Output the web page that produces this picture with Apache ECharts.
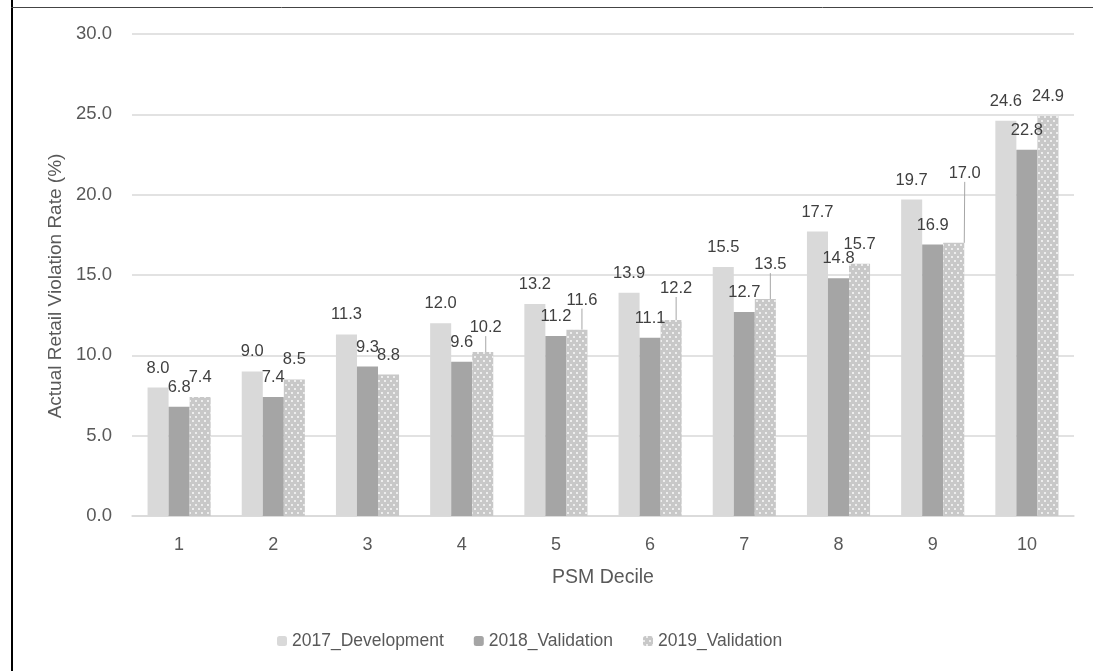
<!DOCTYPE html>
<html>
<head>
<meta charset="utf-8">
<script src="https://cdn.jsdelivr.net/npm/echarts@6/dist/echarts.min.js"></script>
<style>
html,body{margin:0;padding:0;background:#fff;}
#c{width:1093px;height:671px;}
</style>
</head>
<body>
<div id="c"></div>
<script>
const deciles = ['1','2','3','4','5','6','7','8','9','10'];
const dev2017 = [8.0, 9.0, 11.3, 12.0, 13.2, 13.9, 15.5, 17.7, 19.7, 24.6];
const val2018 = [6.8, 7.4, 9.3, 9.6, 11.2, 11.1, 12.7, 14.8, 16.9, 22.8];
const val2019 = [7.4, 8.5, 8.8, 10.2, 11.6, 12.2, 13.5, 15.7, 17.0, 24.9];
const yTicks = [0, 5, 10, 15, 20, 25, 30];

// label displacement (style only) for the 2019 series, Excel-like leader lines
const shift2019 = {3:[3,-5],4:[5,-10],5:[5,-12],6:[5,-15],8:[11,-50]};

const FONT = '"Liberation Sans", Arial, sans-serif';
const chart = echarts.init(document.getElementById('c'));
const labelBase = {show:true, position:'top', distance:11, color:'#404040', fontSize:16.5, fontFamily:FONT,
  formatter: p => p.value.toFixed(1)};

chart.setOption({
  animation:false,
  textStyle:{fontFamily:FONT},
  graphic:[
    {type:'line', shape:{x1:12, y1:0, x2:12, y2:671}, style:{stroke:'#000', lineWidth:2}},
    {type:'line', shape:{x1:11, y1:7.5, x2:1093, y2:7.5}, style:{stroke:'#444', lineWidth:1}}
  ],
  grid:{left:132, right:19, top:34, bottom:155},
  legend:{
    left:272, top:627, itemWidth:10, itemHeight:10, itemGap:30,
    textStyle:{color:'#595959', fontSize:17.5, fontFamily:FONT},
    data:['2017_Development','2018_Validation','2019_Validation']
  },
  xAxis:{
    type:'category', data:deciles,
    name:'PSM Decile', nameLocation:'middle', nameGap:52,
    nameTextStyle:{color:'#595959', fontSize:19.5, fontFamily:FONT},
    axisLine:{lineStyle:{color:'#d9d9d9', width:1.5}},
    axisTick:{show:false},
    axisLabel:{color:'#595959', fontSize:18, margin:20, fontFamily:FONT}
  },
  yAxis:{
    type:'value', min:yTicks[0], max:yTicks[yTicks.length-1], interval:5,
    name:'Actual Retail Violation Rate (%)', nameLocation:'middle', nameGap:64,
    nameTextStyle:{color:'#595959', fontSize:19, fontFamily:FONT, padding:[0,22,0,0]},
    axisLine:{show:false}, axisTick:{show:false},
    axisLabel:{color:'#595959', fontSize:18.5, margin:20, fontFamily:FONT, formatter:v=>v.toFixed(1)},
    splitLine:{lineStyle:{color:'#d9d9d9', width:1.5}}
  },
  series:[
    {name:'2017_Development', type:'bar', data:dev2017, barGap:'0%', barCategoryGap:'33%',
      itemStyle:{color:'#d9d9d9'}, label:labelBase},
    {name:'2018_Validation', type:'bar', data:val2018,
      itemStyle:{color:'#a5a5a5'}, label:labelBase},
    {name:'2019_Validation', type:'bar',
      data: val2019.map((v,i)=> shift2019[i] ? {value:v, labelLine:{show:true}} : {value:v}),
      itemStyle:{color:'#c8c8c8', decal:{symbol:'circle', symbolSize:0.9, color:'#ffffff',
        dashArrayX:[[2,4],[0,3,2,1]], dashArrayY:[2,2]}},
      label:labelBase,
      labelLine:{show:false, lineStyle:{color:'#a6a6a6', width:1}},
      labelLayout: p => {
        const s = shift2019[p.dataIndex];
        return s ? {dx:s[0], dy:s[1]} : {};
      }
    }
  ]
});
</script>
</body>
</html>
